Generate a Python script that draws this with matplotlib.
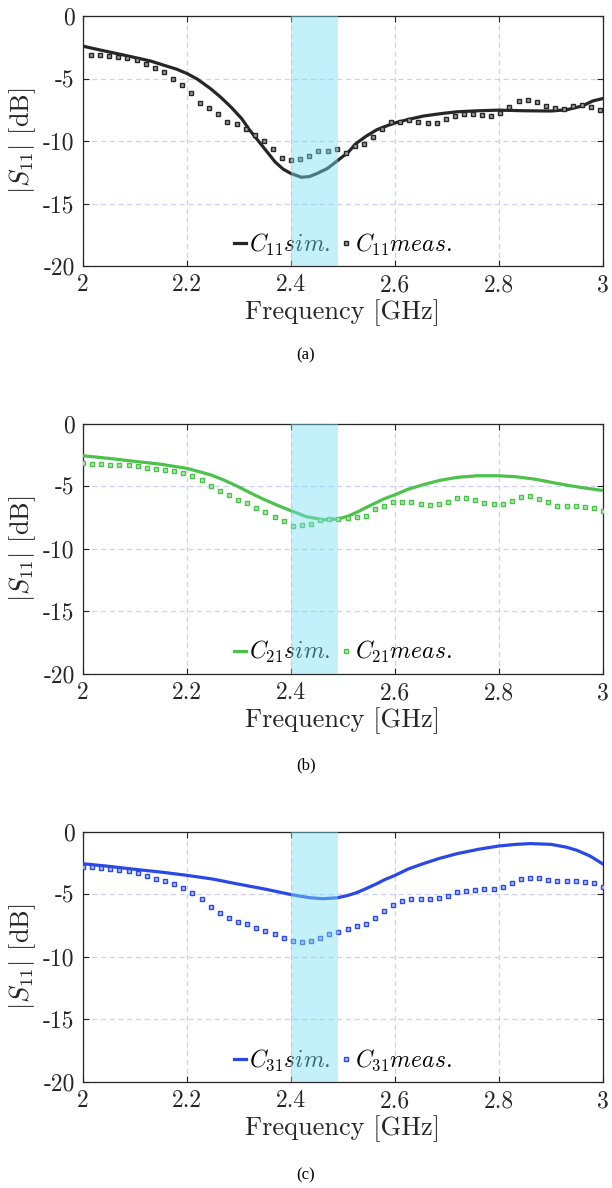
import numpy as np
import matplotlib
matplotlib.use("Agg")
import matplotlib.pyplot as plt
from matplotlib.lines import Line2D

plt.rcParams['font.family'] = 'serif'
plt.rcParams['font.serif'] = ['cmr10']
plt.rcParams['mathtext.fontset'] = 'cm'
plt.rcParams['axes.unicode_minus'] = False

# simulated curves (GHz, dB)
f_sim_a = [2.0, 2.02, 2.04, 2.07, 2.1, 2.13, 2.155, 2.18, 2.2, 2.22, 2.245, 2.265, 2.285, 2.305, 2.32,
           2.345, 2.37, 2.385, 2.4, 2.42, 2.435, 2.45, 2.47, 2.49, 2.51, 2.525, 2.545, 2.565, 2.58, 2.6,
           2.625, 2.655, 2.69, 2.72, 2.76, 2.8, 2.85, 2.9, 2.93, 2.96, 2.98, 3.0]
s_sim_a = [-2.41, -2.6, -2.78, -3.05, -3.32, -3.6, -3.93, -4.25, -4.6, -5.05, -5.8, -6.5, -7.3, -8.2, -9.1,
           -10.4, -11.7, -12.25, -12.6, -12.9, -12.85, -12.6, -12.2, -11.55, -10.9, -10.2, -9.6, -9.1, -8.85, -8.55,
           -8.28, -8.0, -7.8, -7.66, -7.58, -7.53, -7.58, -7.6, -7.5, -7.2, -6.8, -6.6]

f_sim_b = [2.0, 2.05, 2.1, 2.15, 2.2, 2.245, 2.27, 2.295, 2.32, 2.346, 2.375, 2.4, 2.43, 2.462, 2.49,
           2.51, 2.526, 2.545, 2.565, 2.58, 2.6, 2.625, 2.654, 2.685, 2.719, 2.758, 2.8, 2.833, 2.87,
           2.9, 2.93, 2.96, 3.0]
s_sim_b = [-2.57, -2.78, -3.02, -3.25, -3.58, -4.09, -4.5, -4.97, -5.5, -6.03, -6.55, -6.97, -7.45, -7.69, -7.63,
           -7.4, -7.1, -6.7, -6.3, -6.0, -5.69, -5.25, -4.89, -4.55, -4.3, -4.17, -4.17, -4.25, -4.45,
           -4.69, -4.92, -5.12, -5.35]

f_sim_c = [2.0, 2.05, 2.1, 2.15, 2.2, 2.25, 2.295, 2.35, 2.4, 2.436, 2.462, 2.49, 2.51, 2.526, 2.545,
           2.565, 2.58, 2.6, 2.625, 2.654, 2.685, 2.719, 2.76, 2.8, 2.833, 2.86, 2.9, 2.93, 2.95, 2.975, 3.0]
s_sim_c = [-2.57, -2.78, -3.02, -3.24, -3.5, -3.8, -4.17, -4.6, -5.04, -5.29, -5.37, -5.29, -5.1, -4.89, -4.55,
           -4.17, -3.85, -3.5, -3.0, -2.57, -2.15, -1.77, -1.42, -1.15, -1.02, -0.96, -1.02, -1.25, -1.5, -1.95, -2.6]

# measured curves
f_meas_a = np.linspace(2.0155, 2.995, 57)
s_meas_a = [-3.08, -3.08, -3.2, -3.28, -3.36, -3.49, -3.81, -4.13, -4.45, -5.04,
            -5.55, -6.19, -6.96, -7.39, -7.87, -8.51, -8.61, -9.07, -9.55, -10.0,
            -10.67, -11.33, -11.55, -11.47, -11.2, -10.8, -10.8, -10.67, -10.93, -10.43,
            -10.21, -9.71, -9.04, -8.45, -8.48, -8.29, -8.45, -8.59, -8.53, -8.21,
            -8.03, -7.81, -7.81, -7.95, -8.0, -7.76, -7.31, -6.83, -6.69, -6.91,
            -7.17, -7.36, -7.47, -7.2, -7.15, -7.28, -7.55]

f_meas_bc = np.linspace(2.0, 3.0, 58)
s_meas_b = [-3.17, -3.2, -3.2, -3.31, -3.28, -3.28, -3.36, -3.57, -3.65, -3.71,
            -3.79, -3.97, -4.19, -4.53, -5.01, -5.39, -5.73, -6.08, -6.37, -6.75,
            -7.09, -7.49, -7.81, -8.19, -8.13, -8.03, -7.71, -7.63, -7.63, -7.52,
            -7.47, -7.36, -6.83, -6.59, -6.29, -6.27, -6.24, -6.4, -6.48, -6.43,
            -6.27, -5.97, -5.97, -6.13, -6.35, -6.43, -6.43, -6.16, -5.89, -5.81,
            -6.03, -6.24, -6.59, -6.56, -6.61, -6.64, -6.75, -6.99]
s_meas_c = [-2.81, -2.83, -2.89, -2.97, -3.07, -3.16, -3.29, -3.56, -3.82, -3.98,
            -4.2, -4.52, -4.92, -5.43, -6.02, -6.55, -6.95, -7.22, -7.43, -7.7,
            -7.94, -8.18, -8.48, -8.74, -8.82, -8.74, -8.48, -8.18, -8.02, -7.83,
            -7.59, -7.38, -6.9, -6.36, -5.86, -5.59, -5.43, -5.4, -5.4, -5.29,
            -5.13, -4.81, -4.76, -4.71, -4.63, -4.6, -4.47, -4.09, -3.82, -3.72,
            -3.74, -3.85, -3.96, -3.98, -3.98, -4.06, -4.09, -4.41]

panels = [
    (f_sim_a, s_sim_a, f_meas_a, s_meas_a, '#262626', '#9a9a9a', '11', '(a)'),
    (f_sim_b, s_sim_b, f_meas_bc, s_meas_b, '#4cc14c', '#b4eab4', '21', '(b)'),
    (f_sim_c, s_sim_c, f_meas_bc, s_meas_c, '#2a48e6', '#b4c0f6', '31', '(c)'),
]
bottoms = [0.7761, 0.4330, 0.0896]
caption_y = [1 - 355 / 1188, 1 - 765 / 1188, 1 - 1175 / 1188]
band = (2.4, 2.49)

fig = plt.figure(figsize=(6.12, 11.88), dpi=100)
for i, (fs, ss, fm, sm, col, face, idx, cap) in enumerate(panels):
    ax = fig.add_axes([0.1356, bottoms[i], 0.8497, 0.2104])
    ax.plot(fs, ss, color=col, lw=2.3, zorder=3)
    ax.plot(fm, sm, ls='none', marker='s', ms=3.4, mec=col, mfc=face, mew=1.0, zorder=3)
    ax.axvspan(band[0], band[1], facecolor=(124/255, 222/255, 244/255), alpha=0.45, lw=0, zorder=6)
    ax.set_xlim(2, 3)
    ax.set_ylim(-20, 0)
    ax.set_xticks([2, 2.2, 2.4, 2.6, 2.8, 3])
    ax.set_xticklabels(['2', '2.2', '2.4', '2.6', '2.8', '3'])
    ax.set_yticks([-20, -15, -10, -5, 0])
    ax.set_yticklabels(['-20', '-15', '-10', '-5', '0'])
    ax.tick_params(direction='in', top=True, right=True, length=4, width=0.8,
                   labelsize=17, pad=6, colors='#262626')
    ax.grid(True, ls=(0, (4, 3)), color='#ccccff', lw=0.9)
    for sp in ax.spines.values():
        sp.set_color('#262626')
        sp.set_linewidth(0.9)
    ax.set_xlabel('Frequency [GHz]', fontsize=19, labelpad=2, color='#262626')
    ax.set_ylabel(r'$|S_{11}|$ [dB]', fontsize=19, labelpad=4, color='#262626')
    handles = [Line2D([], [], color=col, lw=2.3),
               Line2D([], [], ls='none', marker='s', ms=3.4, mec=col, mfc=face, mew=1.0)]
    labels = [r'$C_{%s} sim.$' % idx, r'$C_{%s} meas.$' % idx]
    ax.legend(handles, labels, loc='center', bbox_to_anchor=(0.5, 0.085), ncol=2, frameon=False,
              fontsize=17, handlelength=0.5, handletextpad=0.15, columnspacing=0.4, borderpad=0.1)
    fig.text(0.5, caption_y[i], cap, ha='center', va='center', fontsize=12, family='Liberation Serif')

fig.savefig('out.png', dpi=100)
